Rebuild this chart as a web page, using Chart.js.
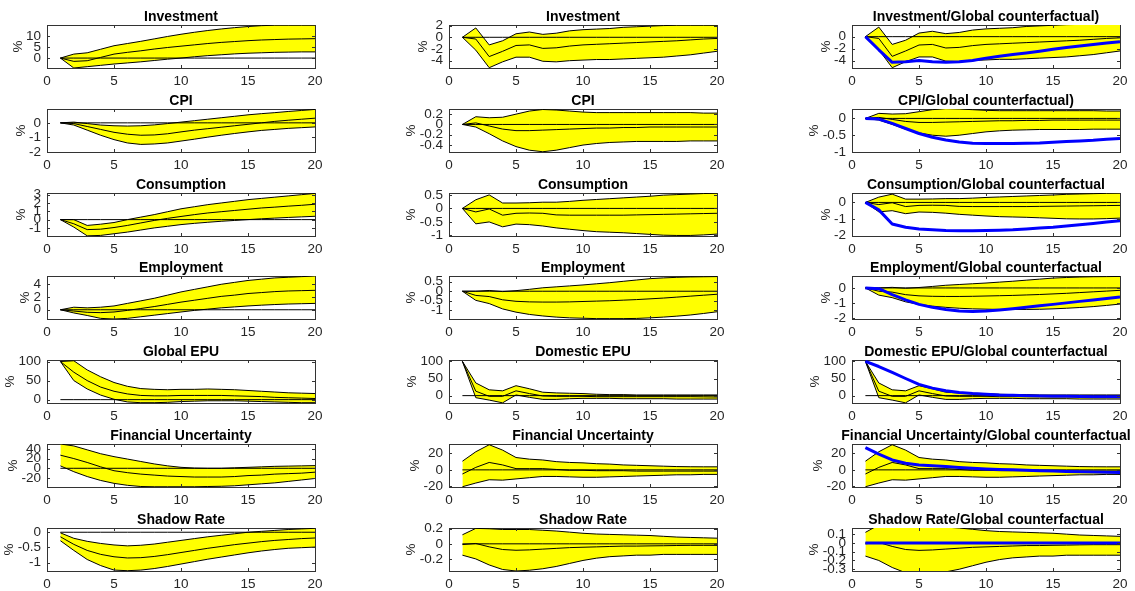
<!DOCTYPE html>
<html>
<head>
<meta charset="utf-8">
<script src="https://cdn.jsdelivr.net/npm/chart.js@4/dist/chart.umd.min.js"></script>
<style>
  html, body { margin: 0; padding: 0; background: #fff; }
  #fig { position: relative; width: 1135px; height: 591px; overflow: hidden; }
  #fig canvas { position: absolute; }
</style>
</head>
<body>
<div id="fig"></div>
<script>
// Impulse responses, horizons 1..20. Bands = lower / median / upper.
const HORIZON = [1, 2, 3, 4, 5, 6, 7, 8, 9, 10, 11, 12, 13, 14, 15, 16, 17, 18, 19, 20];
const X_TICKS = [0, 5, 10, 15, 20];
const ZERO_LINE = Array(20).fill(0);

// --- column 1: global shock ---
const INV_B_LO  = [0, -4.5, -3.9, -3.3, -2.7, -2.2, -1.7, -1.1, -0.5, 0, 0.6, 1.1, 1.5, 1.9, 2.2, 2.4, 2.6, 2.7, 2.8, 2.8];
const INV_B_MED = [0, -1.5, -1.2, 0.3, 1.8, 2.6, 3.3, 4.1, 4.8, 5.4, 6.0, 6.6, 7.1, 7.5, 7.9, 8.2, 8.4, 8.6, 8.7, 8.8];
const INV_B_HI  = [0, 1.8, 2.4, 4.0, 5.6, 6.6, 7.6, 8.7, 9.8, 10.8, 11.7, 12.5, 13.2, 13.8, 14.3, 14.7, 14.9, 14.9, 14.9, 14.9];

const CPI_B_LO  = [0, -0.15, -0.5, -0.85, -1.15, -1.38, -1.48, -1.45, -1.38, -1.25, -1.12, -0.98, -0.85, -0.73, -0.62, -0.52, -0.45, -0.38, -0.33, -0.28];
const CPI_B_MED = [0, -0.05, -0.25, -0.45, -0.65, -0.78, -0.85, -0.83, -0.75, -0.62, -0.5, -0.4, -0.3, -0.2, -0.1, 0, 0.1, 0.18, 0.25, 0.32];
const CPI_B_HI  = [0, 0.05, -0.05, -0.15, -0.2, -0.22, -0.2, -0.14, -0.05, 0.05, 0.15, 0.25, 0.35, 0.45, 0.55, 0.63, 0.7, 0.78, 0.85, 0.92];

const CON_B_LO  = [0, -0.9, -1.95, -1.9, -1.7, -1.5, -1.25, -1.0, -0.8, -0.6, -0.45, -0.32, -0.2, -0.1, 0, 0.1, 0.18, 0.26, 0.33, 0.4];
const CON_B_MED = [0, -0.5, -1.2, -1.15, -0.95, -0.7, -0.4, -0.1, 0.15, 0.38, 0.6, 0.8, 0.95, 1.1, 1.25, 1.4, 1.5, 1.62, 1.72, 1.85];
const CON_B_HI  = [0, 0, -0.7, -0.55, -0.35, 0, 0.3, 0.6, 0.95, 1.3, 1.55, 1.8, 2.0, 2.2, 2.4, 2.55, 2.7, 2.85, 3.0, 3.15];

const EMP_B_LO  = [0, -0.5, -0.9, -1.35, -1.45, -1.35, -1.1, -0.85, -0.6, -0.35, -0.1, 0.1, 0.3, 0.45, 0.6, 0.72, 0.82, 0.9, 0.95, 1.0];
const EMP_B_MED = [0, -0.2, -0.4, -0.45, -0.35, -0.1, 0.2, 0.5, 0.85, 1.2, 1.5, 1.8, 2.1, 2.3, 2.55, 2.7, 2.85, 2.95, 3.0, 3.05];
const EMP_B_HI  = [0, 0.4, 0.3, 0.4, 0.6, 1.0, 1.4, 1.8, 2.3, 2.8, 3.2, 3.6, 4.0, 4.3, 4.6, 4.8, 5.0, 5.1, 5.2, 5.3];

const GEPU_LO  = [100, 50, 28, 12, 1, -6, -8, -8, -7, -5, -4, -3, -3, -3, -4, -5, -6, -7, -8, -8];
const GEPU_MED = [100, 72, 50, 33, 22, 15, 11, 10, 10, 11, 11, 11, 11, 10, 9, 8, 6, 5, 4, 3];
const GEPU_HI  = [100, 102, 78, 60, 45, 35, 29, 27, 26, 27, 27, 28, 27, 26, 24, 22, 20, 18, 17, 16];

const FU_B_LO  = [5, -7, -17, -25, -31, -35, -37.5, -38, -38, -38, -38, -37.5, -37, -36, -34, -32, -30, -27, -24, -21];
const FU_B_MED = [27, 20, 12, 3, -5, -9, -12, -14, -16, -17, -18, -18, -18, -17, -15, -14, -12, -11, -10, -8];
const FU_B_HI  = [50, 46, 38, 30, 24, 19, 14, 9, 5, 2, 0.5, 0, 0, 1, 2, 3, 4, 4.5, 5, 5.5];

const SR_B_LO  = [-0.28, -0.6, -0.9, -1.1, -1.25, -1.27, -1.25, -1.2, -1.13, -1.05, -0.97, -0.89, -0.82, -0.75, -0.68, -0.62, -0.57, -0.53, -0.51, -0.49];
const SR_B_MED = [-0.15, -0.4, -0.6, -0.73, -0.81, -0.85, -0.84, -0.8, -0.74, -0.67, -0.6, -0.53, -0.47, -0.41, -0.36, -0.31, -0.27, -0.24, -0.21, -0.19];
const SR_B_HI  = [-0.02, -0.2, -0.3, -0.37, -0.42, -0.45, -0.43, -0.39, -0.33, -0.27, -0.21, -0.15, -0.1, -0.05, 0, 0.03, 0.06, 0.09, 0.11, 0.13];

// --- column 2: domestic shock (also the bands of column 3) ---
const INV_D_LO  = [0, -2.2, -5.2, -4.2, -3.4, -3.4, -4.1, -4.2, -4.0, -3.9, -3.8, -3.8, -3.7, -3.6, -3.5, -3.4, -3.2, -3.0, -2.7, -2.4];
const INV_D_MED = [0, -0.3, -3.3, -2.4, -1.4, -1.3, -1.9, -1.8, -1.5, -1.3, -1.2, -1.1, -1.0, -0.9, -0.8, -0.7, -0.6, -0.45, -0.3, -0.2];
const INV_D_HI  = [0, 1.6, -1.3, -0.6, 0.6, 0.9, 0.5, 0.7, 1.1, 1.3, 1.4, 1.5, 1.7, 1.8, 1.9, 2.0, 2.05, 2.05, 2.05, 2.05];

const CPI_D_LO  = [0, -0.05, -0.18, -0.32, -0.43, -0.5, -0.53, -0.5, -0.45, -0.4, -0.37, -0.35, -0.34, -0.33, -0.33, -0.33, -0.33, -0.32, -0.32, -0.32];
const CPI_D_MED = [0, 0.03, -0.03, -0.09, -0.12, -0.12, -0.11, -0.1, -0.09, -0.08, -0.07, -0.07, -0.06, -0.06, -0.05, -0.05, -0.05, -0.05, -0.05, -0.05];
const CPI_D_HI  = [0, 0.15, 0.13, 0.14, 0.2, 0.26, 0.29, 0.28, 0.26, 0.24, 0.23, 0.23, 0.23, 0.23, 0.23, 0.23, 0.23, 0.23, 0.22, 0.22];

const CON_D_LO  = [0, -0.57, -0.5, -0.68, -0.58, -0.6, -0.65, -0.72, -0.77, -0.82, -0.86, -0.88, -0.9, -0.93, -0.96, -0.99, -1.0, -1.0, -0.98, -0.95];
const CON_D_MED = [0, -0.13, -0.02, -0.25, -0.18, -0.17, -0.18, -0.24, -0.25, -0.25, -0.25, -0.25, -0.25, -0.24, -0.23, -0.22, -0.21, -0.2, -0.19, -0.18];
const CON_D_HI  = [0, 0.32, 0.5, 0.2, 0.2, 0.21, 0.23, 0.23, 0.26, 0.3, 0.33, 0.36, 0.39, 0.42, 0.45, 0.49, 0.51, 0.53, 0.55, 0.56];

const EMP_D_LO  = [0, -0.48, -0.65, -0.93, -1.1, -1.22, -1.3, -1.36, -1.4, -1.42, -1.44, -1.44, -1.44, -1.43, -1.4, -1.36, -1.31, -1.25, -1.17, -1.08];
const EMP_D_MED = [0, -0.22, -0.28, -0.45, -0.53, -0.56, -0.57, -0.57, -0.56, -0.54, -0.52, -0.5, -0.47, -0.44, -0.4, -0.36, -0.31, -0.26, -0.21, -0.16];
const EMP_D_HI  = [0, 0, 0.04, -0.02, 0.03, 0.1, 0.18, 0.23, 0.28, 0.33, 0.39, 0.45, 0.52, 0.59, 0.66, 0.7, 0.73, 0.75, 0.76, 0.77];

const DEPU_LO  = [100, -6, -13, -21, 2, -5, -11, -11, -9, -8, -8, -8, -9, -9, -9, -9, -10, -10, -10, -10];
const DEPU_MED = [100, 13, -2, -2, 14, 6, -1, -2, -2, -2, -3, -3, -3, -3, -3, -3, -3, -3, -3.5, -4];
const DEPU_HI  = [100, 37, 17, 14, 29, 20, 10, 8, 7, 6, 4, 3, 3, 2, 2, 2, 2, 2, 2, 2];

const FU_D_LO  = [-20.5, -16, -12, -12.5, -11, -9.5, -8, -8, -8.5, -9, -9, -8.5, -8, -7.5, -7, -6.5, -6, -6, -5.5, -5.5];
const FU_D_MED = [-5, 3, 9, 6, 1.5, 1.5, 1.5, 0.5, -0.5, -0.5, -1, -1, -1, -1.5, -1.5, -1.5, -1.5, -1.5, -1.5, -1.5];
const FU_D_HI  = [10.5, 22, 30.5, 24, 15, 13, 12, 10, 9, 8.5, 7.5, 7, 6, 5.5, 5, 4.5, 4, 3.8, 3.7, 3.7];

const SR_D_LO  = [-0.15, -0.2, -0.28, -0.34, -0.36, -0.35, -0.33, -0.3, -0.26, -0.22, -0.19, -0.17, -0.16, -0.15, -0.15, -0.14, -0.14, -0.14, -0.14, -0.14];
const SR_D_MED = [-0.01, 0.005, -0.04, -0.075, -0.085, -0.08, -0.07, -0.06, -0.05, -0.045, -0.04, -0.035, -0.03, -0.03, -0.027, -0.025, -0.022, -0.02, -0.02, -0.02];
const SR_D_HI  = [0.12, 0.205, 0.2, 0.19, 0.19, 0.19, 0.18, 0.17, 0.155, 0.14, 0.13, 0.125, 0.12, 0.115, 0.11, 0.1, 0.09, 0.085, 0.08, 0.075];

// --- column 3: global counterfactual (blue) ---
const INV_G  = [0, -2.2, -4.3, -4.2, -4.0, -4.2, -4.3, -4.2, -4.0, -3.6, -3.3, -3.0, -2.75, -2.45, -2.1, -1.8, -1.55, -1.3, -1.05, -0.85];
const CPI_G  = [0, -0.02, -0.15, -0.3, -0.45, -0.56, -0.64, -0.7, -0.74, -0.75, -0.75, -0.75, -0.74, -0.73, -0.71, -0.69, -0.67, -0.65, -0.62, -0.6];
const CON_G  = [0, -0.45, -1.3, -1.5, -1.6, -1.65, -1.7, -1.72, -1.72, -1.7, -1.68, -1.65, -1.6, -1.55, -1.5, -1.43, -1.35, -1.27, -1.18, -1.1];
const EMP_G  = [0, -0.05, -0.45, -0.8, -1.1, -1.3, -1.45, -1.55, -1.58, -1.55, -1.48, -1.4, -1.3, -1.2, -1.1, -1.0, -0.9, -0.8, -0.7, -0.6];
const DEPU_G = [100, 85, 68, 50, 33, 22, 14, 9, 6, 4, 2, 1, 0, -1, -1.5, -2, -2.5, -3, -3, -3.5];
const FU_G   = [27, 19, 12, 8, 6, 5, 4, 3, 2, 1.2, 0.5, 0, -0.5, -1, -1.5, -2, -2.3, -2.6, -3, -3.3];
const SR_G   = [0, 0, 0, 0, 0, 0, 0, 0, 0, 0, 0, 0, 0, 0, 0, 0, 0, 0, 0, 0];

// Titles, y-limits and y-ticks, one entry per row.
const TITLES_C1 = ['Investment', 'CPI', 'Consumption', 'Employment', 'Global EPU', 'Financial Uncertainty', 'Shadow Rate'];
const TITLES_C2 = ['Investment', 'CPI', 'Consumption', 'Employment', 'Domestic EPU', 'Financial Uncertainty', 'Shadow Rate'];
const TITLES_C3 = ['Investment/Global counterfactual)', 'CPI/Global counterfactual)', 'Consumption/Global counterfactual',
                   'Employment/Global counterfactual', 'Domestic EPU/Global counterfactual',
                   'Financial Uncertainty/Global counterfactual', 'Shadow Rate/Global counterfactual'];

const YLIM_C1 = [[-4.5, 15], [-2, 0.95], [-1.97, 3.2], [-1.45, 5.3], [-8.8, 104], [-38.5, 50], [-1.28, 0.14]];
const YLIM_C2 = [[-5.25, 2.1], [-0.535, 0.3], [-1.02, 0.57], [-1.46, 0.8], [-21.5, 104], [-20.8, 31.4], [-0.36, 0.21]];
const YLIM_C3 = [[-5.25, 1.95], [-1, 0.28], [-2.03, 0.57], [-2.08, 0.8], [-21.5, 104], [-20.8, 31.4], [-0.32, 0.17]];

const YTICKS_C1 = [[0, 5, 10], [-2, -1, 0], [-1, 0, 1, 2, 3], [0, 2, 4], [0, 50, 100], [-20, 0, 20, 40], [-1, -0.5, 0]];
const YTICKS_C2 = [[-4, -2, 0, 2], [-0.4, -0.2, 0, 0.2], [-1, -0.5, 0, 0.5], [-1, -0.5, 0, 0.5], [0, 50, 100], [-20, 0, 20], [-0.2, 0, 0.2]];
const YTICKS_C3 = [[-4, -2, 0], [-1, -0.5, 0], [-2, -1, 0], [-2, -1, 0], [0, 50, 100], [-20, 0, 20], [-0.3, -0.2, -0.1, 0, 0.1]];

const BANDS_C1 = [
    [INV_B_LO, INV_B_MED, INV_B_HI], [CPI_B_LO, CPI_B_MED, CPI_B_HI], [CON_B_LO, CON_B_MED, CON_B_HI],
    [EMP_B_LO, EMP_B_MED, EMP_B_HI], [GEPU_LO, GEPU_MED, GEPU_HI], [FU_B_LO, FU_B_MED, FU_B_HI],
    [SR_B_LO, SR_B_MED, SR_B_HI],
];
const BANDS_C2 = [
    [INV_D_LO, INV_D_MED, INV_D_HI], [CPI_D_LO, CPI_D_MED, CPI_D_HI], [CON_D_LO, CON_D_MED, CON_D_HI],
    [EMP_D_LO, EMP_D_MED, EMP_D_HI], [DEPU_LO, DEPU_MED, DEPU_HI], [FU_D_LO, FU_D_MED, FU_D_HI],
    [SR_D_LO, SR_D_MED, SR_D_HI],
];
const COUNTERFACTUAL = [INV_G, CPI_G, CON_G, EMP_G, DEPU_G, FU_G, SR_G];

// Layout (pixels) of the plot boxes in the figure.
const COL_LEFT = [47, 449, 852];
const ROW_TOP  = [25, 109, 193, 276, 360, 444, 528];
const BOX_W = 268, BOX_H = 43;
const PAD_L = 58, PAD_T = 25, PAD_R = 14, PAD_B = 24;

const FONT_FAMILY = '"Liberation Sans", Arial, Helvetica, sans-serif';
const TICK_SIZE   = 13.5;
const TEXT_COLOR  = '#262626';
const AXIS_COLOR  = '#333333';
const BAND_FILL   = '#ffff00';
const TICK_LEN    = 3;

Chart.defaults.font.family = FONT_FAMILY;

// Inward tick marks, bold title and rotated "%" label (MATLAB look).
const matlabAxes = {
    id: 'matlabAxes',
    afterDraw(chart, args, opts) {
        const { ctx, chartArea: a, scales } = chart;
        ctx.save();
        ctx.strokeStyle = AXIS_COLOR;
        ctx.lineWidth = 1;
        ctx.beginPath();
        for (const t of scales.x.ticks) {
            const px = Math.round(scales.x.getPixelForValue(t.value)) + 0.5;
            ctx.moveTo(px, a.bottom); ctx.lineTo(px, a.bottom - TICK_LEN);
            ctx.moveTo(px, a.top);    ctx.lineTo(px, a.top + TICK_LEN);
        }
        for (const t of scales.y.ticks) {
            const py = Math.round(scales.y.getPixelForValue(t.value)) + 0.5;
            ctx.moveTo(a.left, py);  ctx.lineTo(a.left + TICK_LEN, py);
            ctx.moveTo(a.right, py); ctx.lineTo(a.right - TICK_LEN, py);
        }
        ctx.stroke();

        ctx.fillStyle = '#000';
        ctx.font = `bold 14px ${FONT_FAMILY}`;
        ctx.textAlign = 'center';
        ctx.textBaseline = 'alphabetic';
        ctx.fillText(opts.title, (a.left + a.right) / 2, a.top - 4);

        ctx.font = `${TICK_SIZE}px ${FONT_FAMILY}`;
        const labelW = Math.max(...scales.y.ticks.map(t => ctx.measureText(String(t.value)).width));
        ctx.translate(a.left - 6 - labelW - 8, (a.top + a.bottom) / 2);
        ctx.rotate(-Math.PI / 2);
        ctx.textBaseline = 'middle';
        ctx.fillStyle = TEXT_COLOR;
        ctx.fillText('%', 0, 0);
        ctx.restore();
    },
};

function line(data, color, width) {
    return {
        data, borderColor: color, borderWidth: width, pointRadius: 0,
        tension: 0, fill: false, borderJoinStyle: 'round', xAxisID: 'x', yAxisID: 'y',
    };
}

// frame side drawn by an unlabeled mirror axis
function mirrorAxis(position, min, max) {
    return {
        type: 'linear', position, min, max,
        ticks: { display: false },
        grid: { display: false, drawTicks: false },
        border: { display: true, color: AXIS_COLOR, width: 1 },
        afterFit: s => { if (s.isHorizontal()) s.height = 0; else s.width = 0; },
    };
}

function makePanel(row, col, title, bands, blue, ylim, yticks) {
    const [lo, med, hi] = bands;
    const canvas = document.createElement('canvas');
    canvas.width  = PAD_L + BOX_W + PAD_R;
    canvas.height = PAD_T + BOX_H + PAD_B;
    canvas.style.left = `${COL_LEFT[col] - PAD_L}px`;
    canvas.style.top  = `${ROW_TOP[row] - PAD_T}px`;
    document.getElementById('fig').appendChild(canvas);

    // first dataset is drawn last (on top)
    const datasets = [];
    if (blue) datasets.push(line(blue, '#0000ff', 3));
    datasets.push(line(med, '#000', 1));
    datasets.push(line(ZERO_LINE, '#000', 1));
    datasets.push(line(lo, '#000', 1));
    datasets.push({ ...line(hi, '#000', 1), fill: '-1', backgroundColor: BAND_FILL });

    const tickFont = { size: TICK_SIZE, family: FONT_FAMILY };
    return new Chart(canvas, {
        type: 'line',
        data: { labels: HORIZON, datasets },
        options: {
            responsive: false,
            animation: false,
            devicePixelRatio: 1,
            events: [],
            layout: { padding: { top: PAD_T, right: PAD_R, bottom: 0, left: 0 } },
            plugins: {
                legend: { display: false },
                tooltip: { enabled: false },
                matlabAxes: { title },
            },
            scales: {
                x: {
                    type: 'linear', position: 'bottom', min: 0, max: 20,
                    afterBuildTicks: s => { s.ticks = X_TICKS.map(v => ({ value: v })); },
                    afterFit: s => { s.height = PAD_B; },
                    grid: { display: false, drawTicks: false },
                    border: { display: true, color: AXIS_COLOR, width: 1 },
                    ticks: { font: tickFont, color: TEXT_COLOR, padding: 5, maxRotation: 0, autoSkip: false,
                             callback: v => String(v) },
                },
                y: {
                    type: 'linear', position: 'left', min: ylim[0], max: ylim[1],
                    afterBuildTicks: s => { s.ticks = yticks.map(v => ({ value: v })); },
                    afterFit: s => { s.width = PAD_L; },
                    grid: { display: false, drawTicks: false },
                    border: { display: true, color: AXIS_COLOR, width: 1 },
                    ticks: { font: tickFont, color: TEXT_COLOR, padding: 6, autoSkip: false,
                             callback: v => String(v) },
                },
                x2: mirrorAxis('top', 0, 20),
                y2: mirrorAxis('right', ylim[0], ylim[1]),
            },
        },
        plugins: [matlabAxes],
    });
}

for (let r = 0; r < 7; r++) {
    makePanel(r, 0, TITLES_C1[r], BANDS_C1[r], null, YLIM_C1[r], YTICKS_C1[r]);
    makePanel(r, 1, TITLES_C2[r], BANDS_C2[r], null, YLIM_C2[r], YTICKS_C2[r]);
    makePanel(r, 2, TITLES_C3[r], BANDS_C2[r], COUNTERFACTUAL[r], YLIM_C3[r], YTICKS_C3[r]);
}
</script>
</body>
</html>
